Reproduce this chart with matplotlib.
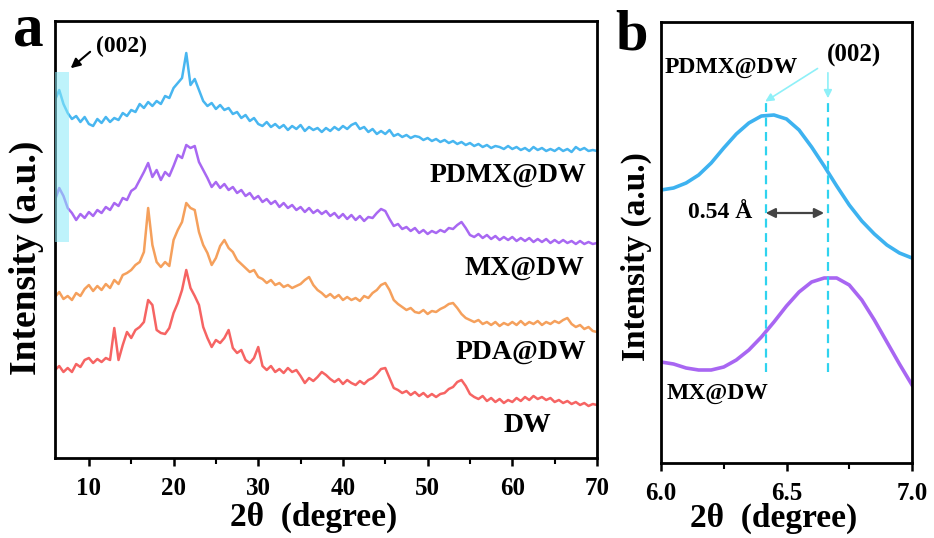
import numpy as np
import matplotlib.pyplot as plt
from matplotlib.patches import Rectangle

plt.rcParams['font.family'] = ['Liberation Serif', 'DejaVu Serif']
plt.rcParams['font.weight'] = 'bold'
plt.rcParams['mathtext.default'] = 'regular'

# ---- panel a: XRD, 6-70 deg, read every 0.5 deg (stacked, a.u.) ----
two_theta = np.arange(6, 70.01, 0.5)

pdmx_dw = [358, 368, 354, 345, 339, 342, 336, 341, 334, 332,
           339, 335, 341, 336, 340, 338, 345, 342, 348, 346,
           354, 350, 356, 352, 357, 354, 362, 360, 370, 375,
           380, 405, 373, 379, 368, 357, 352, 355, 349, 353,
           348, 350, 344, 346, 340, 343, 337, 340, 334, 332,
           336, 331, 334, 330, 333, 328, 332, 329, 333, 327,
           331, 328, 330, 326, 330, 327, 331, 328, 332, 329,
           333, 335, 329, 331, 326, 329, 324, 327, 324, 328,
           322, 324, 321, 323, 320, 322, 321, 318, 320, 317,
           319, 316, 318, 315, 317, 314, 316, 313, 315, 312,
           314, 311, 313, 310, 312, 311, 309, 312, 309, 311,
           308, 310, 307, 311, 308, 310, 307, 309, 307, 310,
           307, 309, 306, 311, 308, 310, 307, 308, 307]

mx_dw = [258, 270, 262, 250, 245, 238, 244, 240, 246, 242,
         248, 245, 251, 248, 255, 252, 260, 258, 267, 270,
         278, 286, 295, 281, 288, 278, 286, 282, 292, 303,
         300, 313, 310, 312, 296, 288, 280, 271, 276, 270,
         274, 268, 271, 265, 268, 262, 265, 259, 262, 256,
         259, 254, 257, 251, 255, 250, 253, 248, 251, 246,
         250, 245, 248, 244, 247, 242, 245, 240, 244, 239,
         243, 238, 242, 237, 241, 240, 245, 249, 247, 239,
         232, 234, 229, 231, 227, 230, 225, 228, 224, 227,
         225, 228, 226, 230, 229, 233, 236, 230, 223, 221,
         224, 220, 223, 219, 222, 218, 221, 218, 221, 217,
         220, 217, 220, 216, 219, 216, 219, 215, 218, 215,
         218, 215, 217, 214, 217, 214, 216, 214, 215]

pda_dw = [161, 166, 159, 162, 158, 165, 162, 169, 173, 167,
          172, 168, 174, 170, 178, 174, 183, 185, 188, 193,
          196, 206, 250, 213, 196, 191, 196, 192, 218, 228,
          236, 255, 250, 248, 226, 213, 205, 193, 200, 212,
          218, 210, 206, 198, 194, 190, 186, 188, 181, 179,
          175, 178, 173, 175, 171, 173, 170, 172, 174, 178,
          181, 173, 168, 165, 161, 164, 160, 163, 158, 161,
          158, 160, 157, 162, 160, 165, 168, 173, 175, 168,
          158, 154, 151, 148, 150, 146, 145, 148, 144, 147,
          146, 149, 151, 154, 155, 150, 144, 140, 138, 136,
          138, 134, 136, 133, 136, 132, 135, 133, 136, 133,
          137, 133, 136, 134, 137, 133, 136, 134, 137, 135,
          138, 140, 134, 131, 133, 129, 131, 127, 126]

dw = [88, 92, 86, 90, 86, 94, 91, 98, 100, 95,
      99, 96, 100, 98, 130, 98, 113, 126, 120, 128,
      131, 136, 158, 153, 128, 125, 124, 130, 145, 155,
      168, 188, 170, 162, 153, 131, 120, 111, 118, 115,
      120, 128, 110, 105, 108, 98, 95, 100, 111, 92,
      88, 92, 86, 89, 85, 90, 86, 88, 82, 75,
      80, 77, 81, 86, 83, 79, 76, 79, 74, 78,
      75, 73, 77, 74, 78, 80, 84, 89, 90, 80,
      70, 68, 65, 67, 63, 66, 62, 65, 61, 64,
      61, 64, 65, 69, 71, 76, 78, 72, 64, 61,
      59, 62, 57, 60, 56, 59, 55, 58, 56, 60,
      57, 61, 58, 62, 59, 61, 58, 60, 56, 58,
      55, 57, 54, 56, 53, 55, 52, 54, 53]

names_a = ['PDMX@DW', 'MX@DW', 'PDA@DW', 'DW']
colors_a = ['#48b6f0', '#a868f2', '#f5a05c', '#f66463']
label_pos_a = [(68.7, 283), (68.5, 190), (68.7, 106), (64.6, 33)]

# ---- panel b: (002) region, 6.0-7.0 deg ----
two_theta_b = np.arange(6.0, 7.001, 0.05)
pdmx_b = [273, 275, 280, 288, 300, 315, 329, 340, 347, 348, 344,
          333, 316, 297, 277, 258, 242, 229, 218, 210, 205]
mx_b = [101, 99, 95, 93, 93, 96, 103, 113, 126, 141, 157,
        171, 181, 185, 185, 178, 163, 143, 121, 99, 78]
peaks_b = [6.42, 6.665]   # (002) of PDMX@DW, MX@DW

for s in (pdmx_dw, mx_dw, pda_dw, dw):
    assert len(s) == len(two_theta)

fig = plt.figure(figsize=(9.34, 5.38), dpi=100)
ax_a = fig.add_axes([55 / 934, 1 - 458 / 538, 542 / 934, 437 / 538])
ax_b = fig.add_axes([661 / 934, 1 - 463 / 538, 251 / 934, 441 / 538])

# 图 a
for ys, c in zip([pdmx_dw, mx_dw, pda_dw, dw], colors_a):
    ax_a.plot(two_theta, ys, color=c, lw=1.8)
for name, (x, y) in zip(names_a, label_pos_a):
    ax_a.text(x, y, name, ha='right', va='center', fontsize=20, fontweight='bold')

ax_a.add_patch(Rectangle((6.0, 216), 1.65, 170, facecolor='#8aeaf8', alpha=0.55,
                         edgecolor='none', zorder=3))
ax_a.annotate('', xy=(7.6, 388), xytext=(10.4, 408),
              arrowprops=dict(arrowstyle='-|>', color='black', lw=1.5, mutation_scale=14))
ax_a.text(10.9, 412, '(002)', ha='left', va='center', fontsize=17, fontweight='bold')

ax_a.set_xlim(6, 70)
ax_a.set_ylim(0, 437)
ax_a.set_xticks([10, 20, 30, 40, 50, 60, 70])
ax_a.set_xticks([15, 25, 35, 45, 55, 65], minor=True)
ax_a.set_yticks([])
ax_a.set_xlabel('2θ  (degree)', fontsize=24, fontweight='bold')
ax_a.set_ylabel('Intensity (a.u.)', fontsize=27, fontweight='bold')
ax_a.xaxis.set_label_coords(0.478, -0.100)
ax_a.yaxis.set_label_coords(-0.020, 0.458)

# 图 b
ax_b.plot(two_theta_b, pdmx_b, color='#3db2f0', lw=2.6)
ax_b.plot(two_theta_b, mx_b, color='#a866f2', lw=2.6)
ax_b.vlines(peaks_b, 91, 363, colors='#2fd3ef', linestyles=(0, (4, 2.5)), lw=1.6)
ax_b.annotate('', xy=(6.406, 360), xytext=(6.633, 396),
              arrowprops=dict(arrowstyle='-|>', color='#8ef0f8', lw=1.2, mutation_scale=12))
ax_b.annotate('', xy=(6.665, 362), xytext=(6.665, 393),
              arrowprops=dict(arrowstyle='-|>', color='#8ef0f8', lw=1.2, mutation_scale=12))
ax_b.annotate('', xy=(6.406, 250), xytext=(6.661, 250),
              arrowprops=dict(arrowstyle='<|-|>', color='#444444', lw=1.6, mutation_scale=14))
ax_b.text(6.66, 408, '(002)', ha='left', va='center', fontsize=18, fontweight='bold')
ax_b.text(6.016, 395, 'PDMX@DW', ha='left', va='center', fontsize=17, fontweight='bold')
ax_b.text(6.108, 250, '0.54 Å', ha='left', va='center', fontsize=17, fontweight='bold')
ax_b.text(6.024, 70, 'MX@DW', ha='left', va='center', fontsize=17, fontweight='bold')

ax_b.set_xlim(6.0, 7.0)
ax_b.set_ylim(0, 441)
ax_b.set_xticks([6.0, 6.5, 7.0])
ax_b.set_xticklabels(['6.0', '6.5', '7.0'])
ax_b.set_xticks([6.25, 6.75], minor=True)
ax_b.set_yticks([])
ax_b.set_xlabel('2θ  (degree)', fontsize=24, fontweight='bold')
ax_b.set_ylabel('Intensity (a.u.)', fontsize=24, fontweight='bold')
ax_b.xaxis.set_label_coords(0.45, -0.091)
ax_b.yaxis.set_label_coords(-0.036, 0.469)

# panel letters
fig.text(28 / 934, 1 - 45 / 538, 'a', fontsize=44, fontweight='bold',
         ha='center', va='baseline')
fig.text(631 / 934, 1 - 50 / 538, 'b', fontsize=42, fontweight='bold',
         ha='center', va='baseline')

for ax in (ax_a, ax_b):
    for sp in ax.spines.values():
        sp.set_linewidth(2)
    ax.tick_params(axis='x', which='major', direction='out', length=6, width=1.8,
                   pad=8, labelsize=18)
    ax.tick_params(axis='x', which='minor', direction='out', length=4, width=1.5)
    for lab in ax.get_xticklabels():
        lab.set_fontweight('bold')

fig.savefig('out.png', dpi=100)
